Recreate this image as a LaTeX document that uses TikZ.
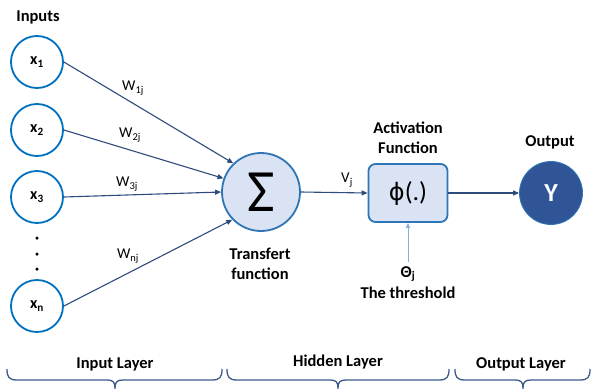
\documentclass[tikz,border=0pt]{standalone}
\usepackage{fontspec}
\setmainfont{Carlito}
\newfontfamily\phifont{DejaVu Sans}
\usetikzlibrary{arrows.meta}
\definecolor{inblue}{HTML}{0070C0}
\definecolor{midblue}{HTML}{2E75B6}
\definecolor{lightfill}{HTML}{DAE3F3}
\definecolor{navy}{HTML}{2F4A7C}
\definecolor{darkblue}{HTML}{2F5597}
\definecolor{thblue}{HTML}{8FAADC}
\definecolor{bracecol}{HTML}{3A5A8C}
\tikzset{
  inp/.style={circle,draw=inblue,line width=1.8pt,fill=white,minimum size=52pt,inner sep=0pt,font=\fontsize{16}{18}\selectfont\bfseries},
  arr/.style={draw=navy,line width=1.1pt,-{Triangle[length=6pt,width=5pt]}},
  lbl/.style={font=\fontsize{16.5}{20}\selectfont\bfseries,align=center,inner sep=0pt},
  wl/.style={font=\fontsize{15}{17}\selectfont,inner sep=0pt},
  bracestyle/.style={draw=bracecol,line width=1.3pt},
}
\begin{document}
\begin{tikzpicture}[x=1pt,y=-1pt]
\useasboundingbox (0,0) rectangle (591,388);
% inputs
\node[lbl] (inputs) at (38,17) {Inputs};
\node[inp] (x1) at (37,62) {x\textsubscript{1}};
\node[inp] (x2) at (37,130) {x\textsubscript{2}};
\node[inp] (x3) at (37,197) {x\textsubscript{3}};
\node[inp] (xn) at (37,306) {x\textsubscript{n}};
\node[circle,fill=black,inner sep=0pt,minimum size=3.5pt] (d1) at (37,238) {};
\node[circle,fill=black,inner sep=0pt,minimum size=3.5pt] (d2) at (37,254) {};
\node[circle,fill=black,inner sep=0pt,minimum size=3.5pt] (d3) at (37,269) {};
% summation
\node[circle,draw=midblue,fill=lightfill,line width=1.8pt,minimum size=78pt,inner sep=0pt,font=\fontsize{60}{60}\selectfont] (sig) at (261,192) {Σ};
\node[lbl] (tf) at (260,263.5) {Transfert\\function};
% activation
\node[rectangle,rounded corners=7pt,draw=midblue,fill=lightfill,line width=1.8pt,minimum width=79pt,minimum height=58pt,inner sep=0pt,font=\fontsize{26}{26}\selectfont] (box) at (408,193) {{\phifont\fontsize{24}{24}\selectfont ϕ}(.)};
\node[lbl] (act) at (408,138) {Activation\\Function};
% output
\node[circle,draw=midblue,fill=darkblue,line width=0.8pt,minimum size=63pt,inner sep=0pt,text=white,font=\fontsize{26}{26}\selectfont\bfseries] (Y) at (551,193) {Y};
\node[lbl] (out) at (550,142) {Output};
% threshold
\coordinate (th) at (408,262);
\node[lbl] (theta) at (408,274) {Θ\textsubscript{j}};
\node[lbl] (thr) at (408,293) {The threshold};
% edges
\draw[arr] (x1.east) -- (sig.134);
\draw[arr] (x2.east) -- (sig.160);
\draw[arr] (x3.east) -- (sig.180);
\draw[arr] (xn.east) -- (sig.224);
\draw[arr] (sig.east) -- (box.west);
\draw[arr] (box.east) -- (Y.west);
\draw[draw=thblue,line width=1pt,-{Triangle[length=5pt,width=4pt]}] (th) -- (box.south);
% weight labels
\node[wl] (w1) at (133,88) {W\textsubscript{1j}};
\node[wl] (w2) at (130,135) {W\textsubscript{2j}};
\node[wl] (w3) at (127,184) {W\textsubscript{3j}};
\node[wl] (wn) at (128,256) {W\textsubscript{nj}};
\node[wl] (vj) at (347,180) {V\textsubscript{j}};
% braces
\draw[bracestyle] (7,369) .. controls (7,377) and (9,380) .. (17,380) -- (107,380) .. controls (113,380) and (115,382) .. (115,388)
  .. controls (115,382) and (117,380) .. (123,380) -- (212,380) .. controls (220,380) and (222,377) .. (222,369);
\draw[bracestyle] (227,369) .. controls (227,377) and (229,380) .. (237,380) -- (330,380) .. controls (336,380) and (338,382) .. (338,388)
  .. controls (338,382) and (340,380) .. (346,380) -- (439,380) .. controls (447,380) and (449,377) .. (449,369);
\draw[bracestyle] (455,369) .. controls (455,377) and (457,380) .. (465,380) -- (515,380) .. controls (521,380) and (523,382) .. (523,388)
  .. controls (523,382) and (525,380) .. (531,380) -- (580,380) .. controls (588,380) and (590,377) .. (590,369);
\node[lbl] (il) at (115,364) {Input Layer};
\node[lbl] (hl) at (338,362) {Hidden Layer};
\node[lbl] (ol) at (521,364) {Output Layer};
\end{tikzpicture}
\end{document}
